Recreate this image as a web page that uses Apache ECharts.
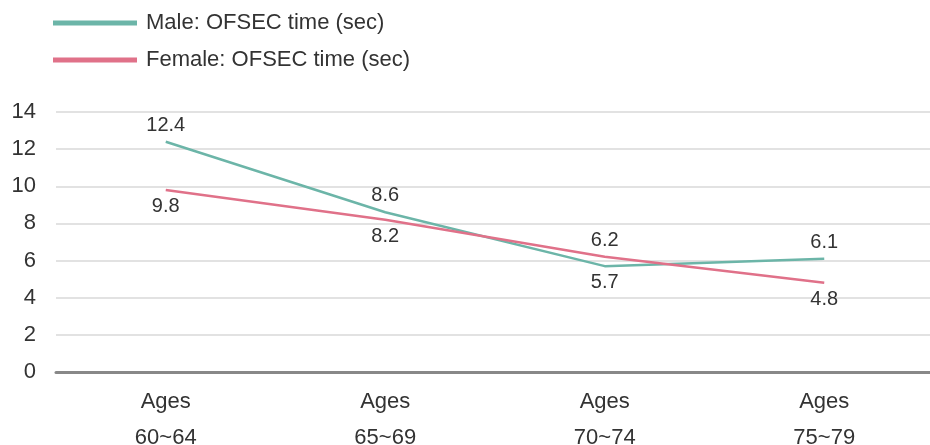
<!DOCTYPE html>
<html><head><meta charset="utf-8">
<script src="https://cdn.jsdelivr.net/npm/echarts@6/dist/echarts.min.js"></script>
<style>html,body{margin:0;padding:0;background:#fff}#c{width:930px;height:445px}</style>
</head><body><div id="c"></div>
<script>
const categories = ['Ages\n60~64', 'Ages\n65~69', 'Ages\n70~74', 'Ages\n75~79'];
const maleValues = [12.4, 8.6, 5.7, 6.1];
const femaleValues = [9.8, 8.2, 6.2, 4.8];
const malePos = ['top', 'top', 'bottom', 'top'];
const femalePos = ['bottom', 'bottom', 'top', 'bottom'];
const seriesNames = ['Male: OFSEC time (sec)', 'Female: OFSEC time (sec)'];
const colors = ['#6cb5a8', '#e07189'];

const font = 'Liberation Sans, Arial, Helvetica, sans-serif';
function mk(vals, pos) {
  return vals.map((v, i) => ({ value: v, label: { position: pos[i] } }));
}
function lineSeries(name, vals, pos, color) {
  return {
    name: name, type: 'line', data: mk(vals, pos),
    showSymbol: true, symbol: 'circle', symbolSize: 1,
    itemStyle: { color: 'rgba(0,0,0,0)', borderWidth: 0 },
    lineStyle: { width: 2.5, color: color },
    label: { show: true, fontSize: 20, color: '#333', opacity: 1, distance: 6 },
    emphasis: { disabled: true }
  };
}
const chart = echarts.init(document.getElementById('c'));
chart.setOption({
  animation: false,
  textStyle: { fontFamily: font },
  legend: {
    orient: 'vertical', left: 48, top: 7,
    itemWidth: 84, itemHeight: 5, itemGap: 15,
    icon: 'rect',
    textStyle: { fontSize: 22, color: '#333', fontFamily: font, lineHeight: 22, padding: [0, 0, 0, 4] },
    data: seriesNames.map((n, i) => ({ name: n, itemStyle: { color: colors[i], opacity: 1 } }))
  },
  grid: { left: 56, right: -4, top: 112, bottom: 73, containLabel: false, outerBoundsMode: 'none' },
  xAxis: {
    type: 'category', data: categories, boundaryGap: true,
    axisLine: { lineStyle: { color: '#888', width: 3 } },
    axisTick: { show: false },
    axisLabel: { fontSize: 22, color: '#333', lineHeight: 36, margin: 12, fontFamily: font }
  },
  yAxis: {
    type: 'value', min: 0, max: 14, interval: 2,
    axisLine: { show: false }, axisTick: { show: false },
    axisLabel: { fontSize: 22, color: '#333', margin: 20 },
    splitLine: { lineStyle: { color: '#d9d9d9', width: 1.5 } }
  },
  series: [
    lineSeries(seriesNames[0], maleValues, malePos, colors[0]),
    lineSeries(seriesNames[1], femaleValues, femalePos, colors[1])
  ]
});
</script></body></html>
